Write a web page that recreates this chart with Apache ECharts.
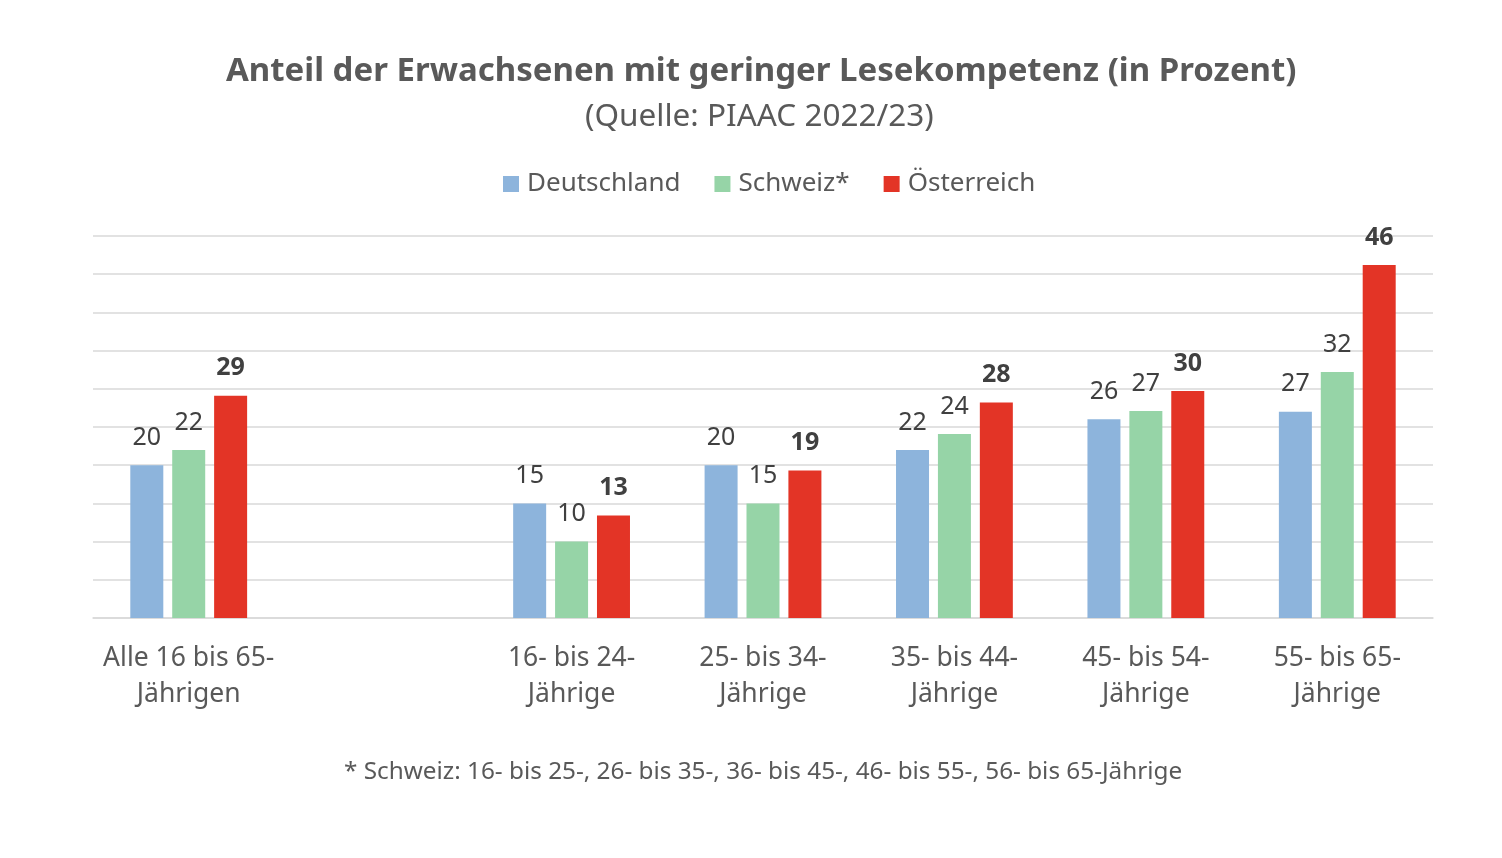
<!DOCTYPE html>
<html>
<head>
<meta charset="utf-8">
<script src="https://cdn.jsdelivr.net/npm/echarts@6/dist/echarts.min.js"></script>
<style>
  html, body { margin: 0; padding: 0; background: #fff; }
  #chart { width: 1502px; height: 858px; }
</style>
</head>
<body>
<div id="chart"></div>
<script>
// data
var categories = ['Alle 16 bis 65-\nJährigen', '', '16- bis 24-\nJährige', '25- bis 34-\nJährige',
    '35- bis 44-\nJährige', '45- bis 54-\nJährige', '55- bis 65-\nJährige'];
var deutschland = [20, null, 15, 20, 22, 26, 27];
var schweiz = [22, null, 10, 15, 24, 27, 32];
var oesterreich = [29, null, 13, 19, 28, 30, 46];
// bar heights in the source are not exactly the labelled values
var deutschlandHeight = [20, null, 15, 20, 22, 26, 27];
var schweizHeight = [22, null, 10, 15, 24.1, 27.1, 32.2];
var oesterreichHeight = [29.1, null, 13.4, 19.3, 28.2, 29.7, 46.2];

var font = 'Noto Sans';
var chart = echarts.init(document.getElementById('chart'));

function barSeries(name, color, heights, labels, bold) {
    return {
        name: name,
        type: 'bar',
        barWidth: 33,
        barGap: '27%',
        itemStyle: { color: color },
        label: {
            show: true,
            position: 'top',
            distance: 15,
            fontFamily: font,
            fontSize: 25,
            fontWeight: bold ? 'bold' : 'normal',
            color: '#404040',
            formatter: function (p) { return labels[p.dataIndex]; }
        },
        data: heights
    };
}

chart.setOption({
    backgroundColor: '#fff',
    animation: false,
    title: [{
        text: 'Anteil der Erwachsenen mit geringer Lesekompetenz (in Prozent)',
        left: 221,
        top: 50,
        textStyle: { fontFamily: font, fontSize: 33, fontWeight: 'bold', color: '#595959' }
    }, {
        text: '(Quelle: PIAAC 2022/23)',
        left: 580,
        top: 96,
        textStyle: { fontFamily: font, fontSize: 31.5, fontWeight: 'normal', color: '#595959' }
    }],
    legend: {
        top: 166,
        left: 498,
        itemWidth: 16,
        itemHeight: 16,
        itemGap: 34,
        icon: 'rect',
        textStyle: { fontFamily: font, fontSize: 26, color: '#595959', padding: [0, 0, 0, 3] },
        data: ['Deutschland', 'Schweiz*', 'Österreich']
    },
    grid: { left: 93, right: 69, top: 236, bottom: 240 },
    xAxis: {
        type: 'category',
        data: categories,
        axisTick: { show: false },
        axisLine: { show: true, lineStyle: { color: '#d9d9d9', width: 1.5 } },
        axisLabel: {
            interval: 0,
            margin: 22,
            fontFamily: font,
            fontSize: 26.5,
            lineHeight: 36,
            color: '#595959'
        }
    },
    yAxis: {
        type: 'value',
        min: 0,
        max: 50,
        interval: 5,
        axisLabel: { show: false },
        axisLine: { show: false },
        axisTick: { show: false },
        splitLine: { lineStyle: { color: '#d9d9d9', width: 1.5 } }
    },
    series: [
        barSeries('Deutschland', '#8db4dc', deutschlandHeight, deutschland, false),
        barSeries('Schweiz*', '#96d4a7', schweizHeight, schweiz, false),
        barSeries('Österreich', '#e33426', oesterreichHeight, oesterreich, true)
    ],
    graphic: [{
        type: 'text',
        left: 344,
        top: 760,
        style: {
            text: '* Schweiz: 16- bis 25-, 26- bis 35-, 36- bis 45-, 46- bis 55-, 56- bis 65-Jährige',
            fontFamily: font,
            fontSize: 24.3,
            fill: '#595959'
        }
    }]
});
</script>
</body>
</html>
